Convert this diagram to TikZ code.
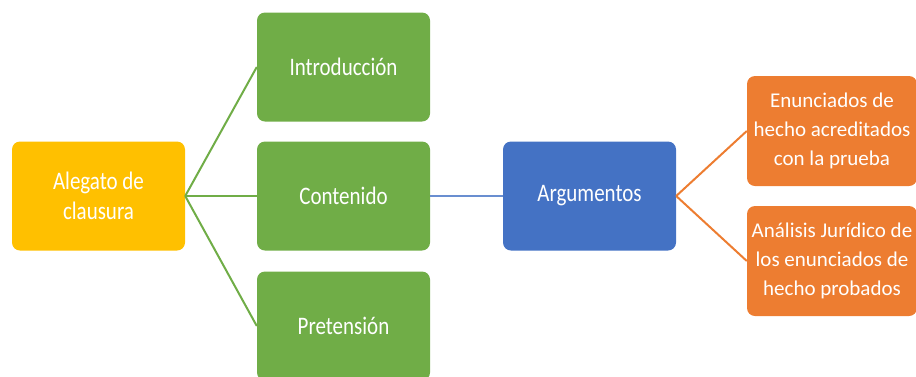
\documentclass[tikz,border=0pt]{standalone}
\usepackage{graphicx}
\usepackage{fontspec}
\setmainfont{Carlito}
\definecolor{cyellow}{HTML}{FFC000}
\definecolor{cgreen}{HTML}{70AD47}
\definecolor{cblue}{HTML}{4472C4}
\definecolor{corange}{HTML}{ED7D31}
\newcommand{\tallt}[1]{\scalebox{1}[1.2]{#1}}
\begin{document}
\begin{tikzpicture}[x=1pt,y=-1pt,
  box/.style={rounded corners=8pt, minimum width=173pt, minimum height=109pt,
    text=white, align=center, inner sep=2pt, font=\fontsize{21}{30}\selectfont},
  link/.style={line width=2pt}]
\useasboundingbox (0,0) rectangle (916,376);
\begin{scope}
\clip (0,0) rectangle (916,376);
\node[box, fill=cyellow] (ale) at (98.5,196) {\tallt{Alegato de}\\\tallt{clausura}};
\node[box, fill=cgreen] (intro) at (343.5,67) {\tallt{Introducción}};
\node[box, fill=cgreen] (cont) at (343.5,196) {\tallt{Contenido}};
\node[box, fill=cgreen] (pret) at (343.5,326) {\tallt{Pretensión}};
\node[box, fill=cblue] (arg) at (589.5,196) {\tallt{Argumentos}};
\node[box, fill=corange, minimum width=170pt, minimum height=110pt, font=\fontsize{21}{29.3}\selectfont] (enun) at (832,131) {Enunciados de\\hecho acreditados\\con la prueba};
\node[box, fill=corange, minimum width=170pt, minimum height=110pt, font=\fontsize{21}{29.3}\selectfont] (anal) at (832,261) {Análisis Jurídico de\\los enunciados de\\hecho probados};
\draw[link, cgreen] (ale.east) -- (intro.west);
\draw[link, cgreen] (ale.east) -- (cont.west);
\draw[link, cgreen] (ale.east) -- (pret.west);
\draw[link, cblue!80] (cont.east) -- (arg.west);
\draw[link, corange] (arg.east) -- (enun.west);
\draw[link, corange] (arg.east) -- (anal.west);
\end{scope}
\end{tikzpicture}
\end{document}
